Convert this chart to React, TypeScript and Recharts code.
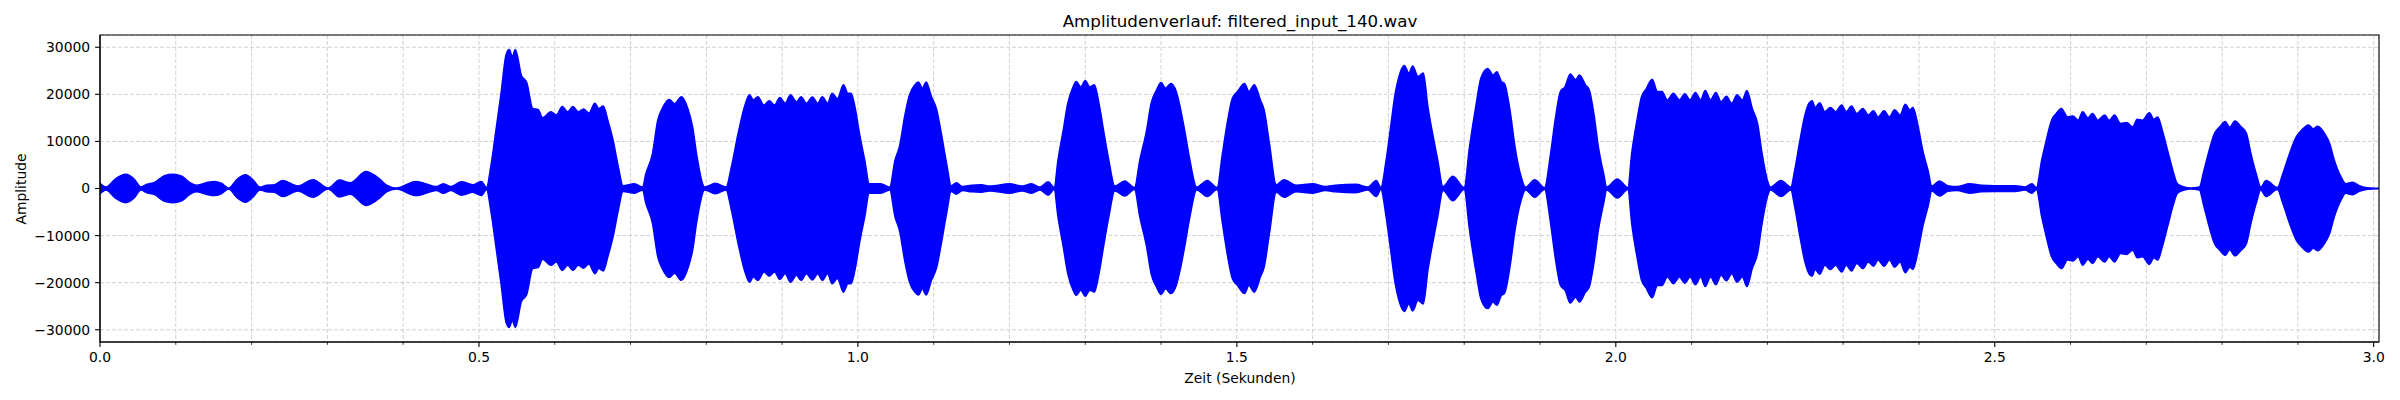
import { Area, CartesianGrid, ComposedChart, ReferenceArea, XAxis, YAxis } from 'recharts';

// envelope of the waveform (seconds / amplitude)
const TIME = [
  0.0, 0.008, 0.02, 0.034, 0.045, 0.054, 0.062, 0.072, 0.085, 0.096, 0.108, 0.118, 0.127, 0.14, 0.151, 0.16,
  0.17, 0.18, 0.192, 0.202, 0.211, 0.22, 0.23, 0.241, 0.261, 0.281, 0.301, 0.316, 0.33, 0.351, 0.369, 0.378,
  0.391, 0.417, 0.444, 0.453, 0.463, 0.477, 0.492, 0.503, 0.51, 0.516, 0.523, 0.529, 0.536, 0.54, 0.544, 0.548,
  0.556, 0.563, 0.571, 0.578, 0.584, 0.595, 0.602, 0.61, 0.617, 0.624, 0.631, 0.638, 0.645, 0.653, 0.658, 0.664,
  0.67, 0.677, 0.684, 0.69, 0.705, 0.716, 0.72, 0.729, 0.736, 0.742, 0.751, 0.758, 0.767, 0.776, 0.782, 0.787,
  0.798, 0.812, 0.826, 0.833, 0.842, 0.851, 0.857, 0.862, 0.868, 0.876, 0.883, 0.89, 0.897, 0.904, 0.911, 0.919,
  0.925, 0.932, 0.94, 0.947, 0.953, 0.96, 0.966, 0.973, 0.981, 0.987, 0.991, 0.996, 1.002, 1.009, 1.015, 1.03,
  1.042, 1.049, 1.055, 1.062, 1.068, 1.075, 1.08, 1.085, 1.09, 1.097, 1.104, 1.11, 1.117, 1.123, 1.13, 1.138,
  1.15, 1.163, 1.174, 1.2, 1.217, 1.229, 1.24, 1.251, 1.259, 1.264, 1.271, 1.277, 1.284, 1.288, 1.294, 1.3,
  1.306, 1.312, 1.318, 1.324, 1.331, 1.339, 1.352, 1.365, 1.372, 1.381, 1.387, 1.394, 1.4, 1.406, 1.413, 1.42,
  1.425, 1.431, 1.438, 1.447, 1.461, 1.474, 1.481, 1.488, 1.494, 1.501, 1.51, 1.516, 1.523, 1.531, 1.536, 1.543,
  1.552, 1.562, 1.578, 1.6, 1.617, 1.63, 1.657, 1.673, 1.684, 1.69, 1.697, 1.703, 1.709, 1.714, 1.721, 1.727,
  1.732, 1.739, 1.746, 1.752, 1.759, 1.765, 1.772, 1.785, 1.8, 1.807, 1.816, 1.822, 1.831, 1.838, 1.843, 1.849,
  1.853, 1.861, 1.867, 1.874, 1.881, 1.893, 1.906, 1.914, 1.92, 1.927, 1.933, 1.94, 1.947, 1.952, 1.96, 1.965,
  1.971, 1.977, 1.984, 1.988, 2.002, 2.016, 2.021, 2.028, 2.034, 2.04, 2.048, 2.055, 2.061, 2.068, 2.076, 2.084,
  2.091, 2.098, 2.105, 2.112, 2.118, 2.125, 2.132, 2.139, 2.146, 2.153, 2.16, 2.167, 2.173, 2.18, 2.187, 2.193,
  2.2, 2.204, 2.218, 2.231, 2.236, 2.243, 2.249, 2.255, 2.259, 2.263, 2.269, 2.276, 2.283, 2.29, 2.298, 2.304,
  2.311, 2.318, 2.326, 2.333, 2.34, 2.346, 2.354, 2.361, 2.368, 2.375, 2.382, 2.388, 2.392, 2.399, 2.405, 2.412,
  2.417, 2.427, 2.438, 2.45, 2.467, 2.482, 2.5, 2.527, 2.54, 2.549, 2.555, 2.562, 2.568, 2.575, 2.581, 2.588,
  2.596, 2.603, 2.61, 2.616, 2.623, 2.629, 2.636, 2.645, 2.651, 2.658, 2.666, 2.674, 2.682, 2.688, 2.695, 2.704,
  2.71, 2.715, 2.721, 2.728, 2.735, 2.741, 2.75, 2.758, 2.77, 2.776, 2.783, 2.79, 2.797, 2.804, 2.81, 2.817,
  2.825, 2.832, 2.838, 2.845, 2.851, 2.858, 2.873, 2.88, 2.889, 2.898, 2.905, 2.914, 2.92, 2.926, 2.935, 2.942,
  2.948, 2.957, 2.963, 2.972, 2.981, 2.992, 3.007,
];

const ENVELOPE = [
  1100, 300, 2000, 3000, 2000, 300, 900, 1300, 2700, 3000, 2600, 1300, 700, 1200, 1500, 1100,
  100, 1800, 2900, 1800, 300, 700, 800, 1700, 500, 1850, 100, 1800, 1200, 3600, 2000, 700,
  100, 1500, 400, 1000, 400, 1400, 800, 1500, 200, 5000, 13000, 20000, 28500, 29500, 28000, 29500,
  24000, 22500, 17000, 16800, 15000, 16300, 15600, 17400, 16300, 17400, 16300, 16900, 16000, 18100, 17000, 17500,
  14500, 10200, 4500, 600, 1000, 300, 3000, 7400, 14500, 17000, 18900, 18000, 19500, 16800, 13000, 7400,
  300, 1100, 300, 4500, 11700, 17700, 19900, 18800, 19500, 17700, 18600, 17700, 19300, 18100, 19900, 18400,
  19500, 18100, 19400, 18100, 19500, 18100, 20200, 19100, 22000, 20200, 20200, 17400, 11700, 6000, 1000, 1000,
  300, 6000, 9000, 15500, 19800, 22000, 22600, 21300, 22600, 19500, 16700, 11700, 5300, 600, 1200, 400,
  700, 800, 500, 1000, 500, 1000, 300, 1400, 200, 6000, 12400, 18100, 21600, 22700, 21600, 22900,
  21600, 22000, 18100, 12400, 6000, 500, 1600, 200, 6000, 12400, 18100, 20900, 22500, 21300, 22300, 20600,
  17400, 12400, 6000, 300, 1700, 200, 7400, 14500, 19100, 20600, 22300, 20600, 22000, 18800, 16700, 9500,
  800, 1850, 700, 1000, 400, 700, 900, 300, 1700, 200, 6000, 13100, 20200, 23800, 26100, 24500,
  26000, 23800, 24500, 17400, 11000, 6000, 400, 2600, 200, 8800, 18100, 23400, 25500, 24100, 24800, 22700,
  22300, 15900, 8800, 3100, 300, 1850, 200, 7400, 14500, 20600, 21600, 24300, 23100, 24100, 22000, 20900,
  15900, 8800, 3100, 300, 2000, 200, 7400, 14500, 19500, 21100, 23200, 20600, 20600, 18800, 20200, 18800,
  20100, 18800, 20400, 18800, 20800, 18800, 20400, 18400, 19600, 18100, 19900, 18800, 20800, 17000, 13800, 7400,
  1700, 300, 1700, 300, 3800, 10200, 15200, 18100, 18600, 17200, 18200, 16300, 17200, 16300, 17700, 16300,
  17500, 15900, 17000, 15600, 16500, 15200, 16500, 15200, 16700, 15600, 17900, 16700, 17200, 13100, 8100, 3800,
  500, 1600, 600, 400, 1000, 700, 600, 600, 300, 1000, 200, 6000, 10200, 14500, 15900, 17000,
  15200, 15400, 14500, 16300, 15000, 15900, 14500, 15600, 14500, 15600, 13800, 14000, 13100, 14700, 14500, 16100,
  14700, 15200, 12400, 8100, 3800, 1000, 300, 100, 300, 3800, 8100, 11700, 13100, 14200, 13000, 14300,
  13100, 11700, 7400, 3100, 300, 1700, 200, 3100, 7400, 11000, 12400, 13500, 12700, 13200, 11700, 9500,
  6000, 2400, 1000, 1300, 600, 150, 50,
];

const TIME_TICKS = [
  0, 0.1, 0.2, 0.3, 0.4, 0.5, 0.6, 0.7, 0.8, 0.9, 1.0, 1.1, 1.2, 1.3, 1.4, 1.5,
  1.6, 1.7, 1.8, 1.9, 2.0, 2.1, 2.2, 2.3, 2.4, 2.5, 2.6, 2.7, 2.8, 2.9, 3.0,
];
const AMP_TICKS = [-30000, -20000, -10000, 0, 10000, 20000, 30000];

const T_MAX = 3.007;
const A_LIM = 32600;
const FONT = '"DejaVu Sans", sans-serif';

const points = TIME.map((t, i) => ({ t, range: [-ENVELOPE[i], ENVELOPE[i]] }));

function TimeTick({ x, y, payload }: any) {
  const v = payload.value as number;
  const major = Math.abs(v * 2 - Math.round(v * 2)) < 1e-6;
  return (
    <g>
      <line x1={x} x2={x} y1={y} y2={y + (major ? 4.9 : 2.8)} stroke="#000" strokeWidth={major ? 1.1 : 0.8} />
      {major && (
        <text x={x} y={y + 20} textAnchor="middle" fontFamily={FONT} fontSize={13.9} fill="#000">
          {v.toFixed(1)}
        </text>
      )}
    </g>
  );
}

const fmtAmp = (v: number) => (v < 0 ? '\u2212' + String(-v) : String(v));

export default function App() {
  return (
    <div style={{ position: 'absolute', left: 0, top: 0, width: 2400, height: 400, background: '#fff' }}>
      <ComposedChart
        width={2400}
        height={400}
        data={points}
        margin={{ top: 35, right: 21, bottom: 0, left: 0 }}
      >
        <CartesianGrid stroke="#cccccc" strokeDasharray="4 2" strokeWidth={0.9} />
        <XAxis
          dataKey="t"
          type="number"
          domain={[0, T_MAX]}
          allowDataOverflow
          ticks={TIME_TICKS}
          interval={0}
          height={58}
          tickLine={false}
          tickSize={0}
          tickMargin={0}
          tick={<TimeTick />}
          axisLine={{ stroke: '#000', strokeWidth: 1.1 }}
        />
        <YAxis
          type="number"
          domain={[-A_LIM, A_LIM]}
          allowDataOverflow
          ticks={AMP_TICKS}
          interval={0}
          width={100}
          tickSize={4.9}
          tickMargin={4.9}
          tickFormatter={fmtAmp}
          tickLine={{ stroke: '#000', strokeWidth: 1.1 }}
          axisLine={{ stroke: '#000', strokeWidth: 1.1 }}
          tick={{ fill: '#000', fontSize: 13.9, fontFamily: FONT }}
        />
        <Area
          type="monotone"
          dataKey="range"
          stroke="#0000ff"
          strokeWidth={1.6}
          strokeLinejoin="round"
          fill="#0000ff"
          fillOpacity={1}
          dot={false}
          activeDot={false}
          isAnimationActive={false}
        />
        <ReferenceArea
          x1={0}
          x2={T_MAX}
          y1={-A_LIM}
          y2={A_LIM}
          fill="none"
          stroke="#000"
          strokeWidth={1.1}
          ifOverflow="visible"
        />
      </ComposedChart>
      <svg
        width={2400}
        height={400}
        style={{ position: 'absolute', left: 0, top: 0, pointerEvents: 'none' }}
      >
        <text x={1240} y={27} textAnchor="middle" fontFamily={FONT} fontSize={16.7} fill="#000">
          Amplitudenverlauf: filtered_input_140.wav
        </text>
        <text x={1240} y={383} textAnchor="middle" fontFamily={FONT} fontSize={13.9} fill="#000">
          Zeit (Sekunden)
        </text>
        <text
          x={26}
          y={189}
          textAnchor="middle"
          fontFamily={FONT}
          fontSize={13.9}
          fill="#000"
          transform="rotate(-90 26 189)"
        >
          Amplitude
        </text>
      </svg>
    </div>
  );
}
